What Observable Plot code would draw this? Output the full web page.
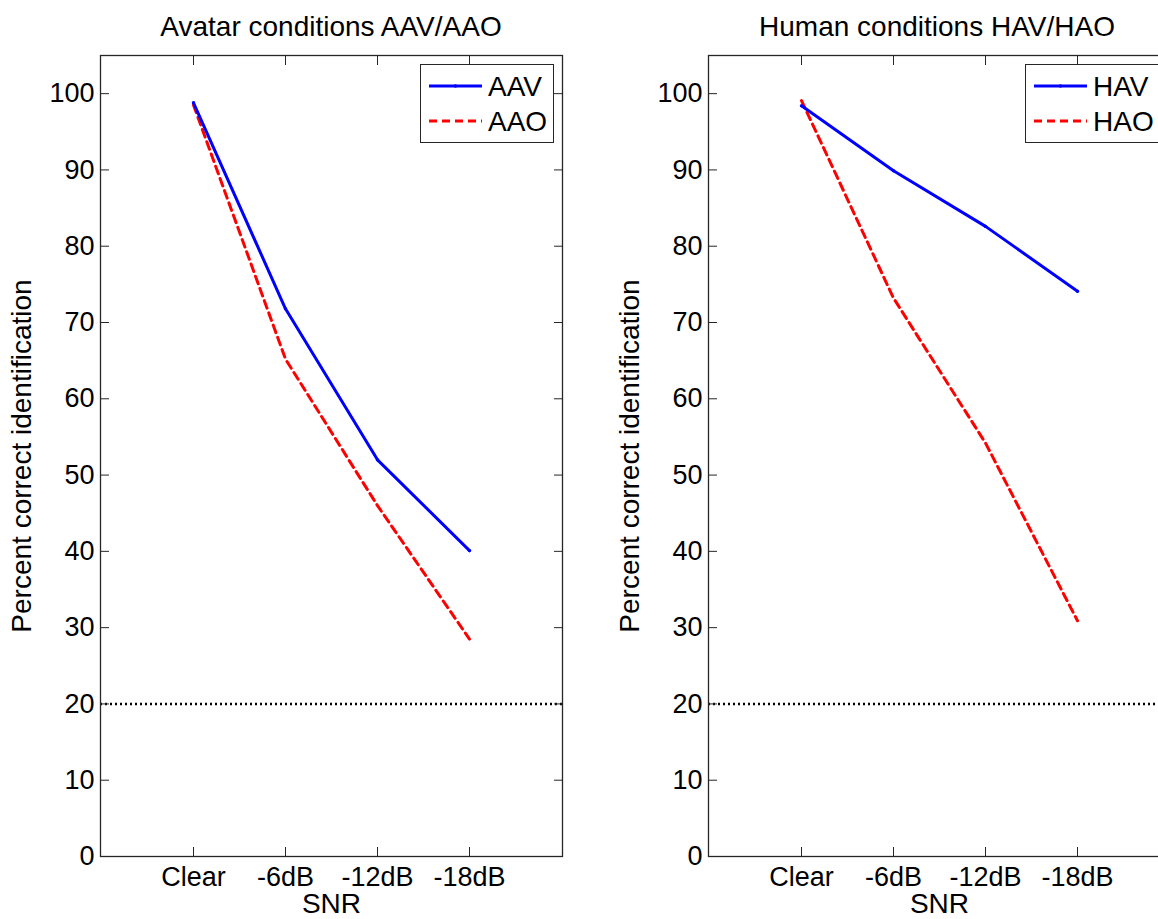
<!DOCTYPE html>
<html>
<head>
<meta charset="utf-8">
<script src="https://cdn.jsdelivr.net/npm/d3@7"></script>
<script src="https://cdn.jsdelivr.net/npm/@observablehq/plot@0.6"></script>
<style>
  html, body { margin: 0; padding: 0; background: #fff; }
  #wrap { position: relative; width: 1158px; height: 919px; overflow: hidden;
          font-family: "Liberation Sans", Arial, sans-serif; color: #000; }
  .panel { position: absolute; top: 0; }
  .title { position: absolute; top: 13px; font-size: 28px; line-height: 1; white-space: nowrap;
           transform: translateX(-50%); }
  .legend { position: absolute; top: 64px; width: 134px; height: 79px; box-sizing: border-box;
            border: 1.3px solid #262626; background: #fff; }
  .legend .row { position: absolute; left: 0; height: 28px; }
  .legend svg { position: absolute; left: 8px; top: 0; }
  .legend span { position: absolute; left: 67px; top: 0; font-size: 28px; line-height: 1; white-space: nowrap; }
</style>
</head>
<body>
<div id="wrap"></div>
<script>
// ---- data ----
const snr = ["Clear", "-6dB", "-12dB", "-18dB"];
const AAV = [98.8, 71.8, 52.0, 40.1];
const AAO = [98.5, 65.2, 46.0, 28.5];
const HAV = [98.4, 89.9, 82.6, 74.1];
const HAO = [99.1, 73.2, 54.2, 30.9];
const chance = [20];
const yTicks = [0, 10, 20, 30, 40, 50, 60, 70, 80, 90, 100];
const titles = ["Avatar conditions AAV/AAO", "Human conditions HAV/HAO"];
const seriesNames = [["AAV", "AAO"], ["HAV", "HAO"]];

const BLUE = "#0000ff", RED = "#ff0000";

function toRows(values) { return values.map((v, i) => ({snr: snr[i], value: v})); }

function panel(av, ao, width, marginLeft, marginRight) {
  return Plot.plot({
    width, height: 919,
    marginLeft, marginRight, marginTop: 55, marginBottom: 63,
    style: {fontFamily: "'Liberation Sans', Arial, sans-serif", fontSize: "27px", color: "#000", background: "#fff", overflow: "visible"},
    x: {type: "point", domain: snr, padding: 1},
    y: {domain: [0, 105]},
    marks: [
      Plot.ruleY(chance, {stroke: "#000", strokeWidth: 2.5, strokeDasharray: "2,3"}),
      Plot.line(toRows(ao), {x: "snr", y: "value", stroke: RED, strokeWidth: 3, strokeDasharray: "8,5"}),
      Plot.line(toRows(av), {x: "snr", y: "value", stroke: BLUE, strokeWidth: 3}),
      Plot.dot(toRows(av), {x: "snr", y: "value", fill: BLUE, r: 1.7}),
      Plot.frame({stroke: "#262626", strokeWidth: 1.3}),
      // tick labels
      Plot.axisX({anchor: "bottom", tickSize: 0, tickPadding: 10, label: null}),
      Plot.axisY(yTicks, {anchor: "left", tickSize: 0, tickPadding: 6, label: null}),
      // axis titles
      Plot.axisX({anchor: "bottom", tickSize: 0, text: null, fontSize: 28, label: "SNR", labelAnchor: "center", labelOffset: 56, labelArrow: "none"}),
      Plot.axisY(yTicks, {anchor: "left", tickSize: 0, text: null, fontSize: 28, label: "Percent correct identification", labelAnchor: "center", labelOffset: 89, labelArrow: "none"}),
      // inward ticks on all sides
      Plot.axisX({anchor: "bottom", tickSize: 9, dy: -9, text: null, label: null, stroke: "#262626"}),
      Plot.axisX({anchor: "top", tickSize: 9, dy: 9, text: null, label: null, stroke: "#262626"}),
      Plot.axisY(yTicks, {anchor: "left", tickSize: 9, dx: 9, text: null, label: null, stroke: "#262626"}),
      Plot.axisY(yTicks, {anchor: "right", tickSize: 9, dx: -9, text: null, label: null, stroke: "#262626"})
    ]
  });
}

const wrap = document.getElementById("wrap");

const p1 = panel(AAV, AAO, 580, 100, 18);
p1.classList.add("panel"); p1.style.left = "0px";
wrap.appendChild(p1);

const p2 = panel(HAV, HAO, 600, 128, 10);
p2.classList.add("panel"); p2.style.left = "580px";
wrap.appendChild(p2);

// titles
[[331, titles[0]], [937, titles[1]]].forEach(([cx, t]) => {
  const d = document.createElement("div");
  d.className = "title"; d.style.left = cx + "px"; d.textContent = t;
  wrap.appendChild(d);
});

// legends
function legend(left, names) {
  const box = document.createElement("div");
  box.className = "legend"; box.style.left = left + "px";
  const styles = [{stroke: BLUE, dash: null, dot: true}, {stroke: RED, dash: "8,5", dot: false}];
  names.forEach((name, i) => {
    const row = document.createElement("div");
    row.className = "row"; row.style.top = (i === 0 ? 8 : 43) + "px"; row.style.width = "134px";
    const s = styles[i];
    row.innerHTML = `<svg width="54" height="28"><line x1="0" x2="53" y1="13" y2="13" stroke="${s.stroke}" stroke-width="3" ${s.dash ? `stroke-dasharray="${s.dash}"` : ""}/>${s.dot ? `<circle cx="26.5" cy="13" r="1.7" fill="${s.stroke}"/>` : ""}</svg><span>${name}</span>`;
    box.appendChild(row);
  });
  wrap.appendChild(box);
}
legend(420, seriesNames[0]);
legend(1025, seriesNames[1]);
</script>
</body>
</html>
